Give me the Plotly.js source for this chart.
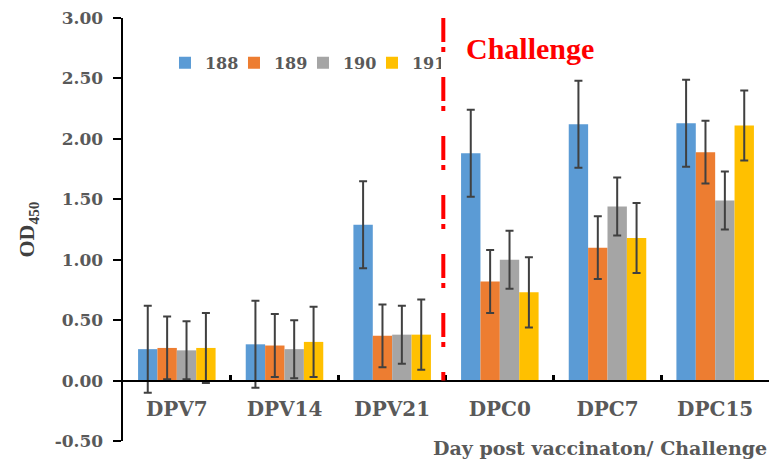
<!DOCTYPE html>
<html>
<head>
<meta charset="utf-8">
<script src="https://cdn.plot.ly/plotly-3.0.1.min.js"></script>
<style>html,body{margin:0;padding:0;background:#fff;}#chart{width:769px;height:466px;}</style>
</head>
<body>
<div id="chart"></div>
<script>
// ---- data ----
const categories = ['DPV7', 'DPV14', 'DPV21', 'DPC0', 'DPC7', 'DPC15'];
const seriesNames = ['188', '189', '190', '191'];
const s188 = [0.26, 0.30, 1.29, 1.88, 2.12, 2.13];
const s189 = [0.27, 0.29, 0.37, 0.82, 1.10, 1.89];
const s190 = [0.25, 0.26, 0.38, 1.00, 1.44, 1.49];
const s191 = [0.27, 0.32, 0.38, 0.73, 1.18, 2.11];
const e188 = [0.36, 0.36, 0.36, 0.36, 0.36, 0.36];
const e189 = [0.26, 0.26, 0.26, 0.26, 0.26, 0.26];
const e190 = [0.24, 0.24, 0.24, 0.24, 0.24, 0.24];
const e191 = [0.29, 0.29, 0.29, 0.29, 0.29, 0.29];
const yTickVals = [-0.5, 0, 0.5, 1, 1.5, 2, 2.5, 3];
const yTickText = ['-0.50', '0.00', '0.50', '1.00', '1.50', '2.00', '2.50', '3.00'];
const challengeText = 'Challenge';
const xTitle = 'Day post vaccinaton/ Challenge';
const yTitle = 'OD<sub>450</sub>';

// ---- styles ----
const colors = ['#5B9BD5', '#ED7D31', '#A5A5A5', '#FFC000'];
const values = [s188, s189, s190, s191];
const errs = [e188, e189, e190, e191];
const serif = 'Liberation Serif, Times New Roman, serif';
const wideSerif = 'DejaVu Serif, serif';
const grey = '#595959';

const traces = seriesNames.map((name, i) => ({
  type: 'bar',
  name: name,
  x: categories,
  y: values[i],
  marker: {color: colors[i], line: {width: 0}},
  error_y: {type: 'data', array: errs[i], visible: true, color: '#404040', thickness: 2, width: 4}
}));

const layout = {
  width: 769, height: 466,
  margin: {l: 123, r: 0, t: 18, b: 25, pad: 0},
  paper_bgcolor: '#ffffff', plot_bgcolor: '#ffffff',
  barmode: 'group', bargap: 0.28, bargroupgap: 0,
  showlegend: true,
  legend: {
    orientation: 'h', x: 0.065, y: 0.894, xanchor: 'left', yanchor: 'middle',
    bgcolor: 'rgba(0,0,0,0)', entrywidth: 24,
    font: {family: wideSerif, size: 16, color: grey, weight: 'bold'}
  },
  xaxis: {
    type: 'category', anchor: 'free', position: 0.5 / 3.5,
    showline: true, linecolor: '#000', linewidth: 2.5,
    ticks: 'inside', tickson: 'boundaries', ticklen: 5, tickwidth: 2.5, tickcolor: '#000',
    showticklabels: true, ticklabelstandoff: 10,
    tickfont: {family: wideSerif, size: 20, color: grey, weight: 'bold'},
    showgrid: false, zeroline: false,
    range: [-0.5, 5.5]
  },
  yaxis: {
    range: [-0.5, 3.0], showline: true, linecolor: '#000', linewidth: 2.5,
    ticks: 'outside', ticklen: 8, tickwidth: 2, tickcolor: '#000',
    tickmode: 'array', tickvals: yTickVals, ticktext: yTickText,
    ticklabelstandoff: 6,
    tickfont: {family: wideSerif, size: 17, color: grey, weight: 'bold'},
    showgrid: false, zeroline: false,
    title: {text: yTitle, standoff: 14, font: {family: serif, size: 22, color: '#404040', weight: 'bold'}}
  },
  shapes: [{
    type: 'line', xref: 'x', yref: 'y', x0: 2.475, x1: 2.475, y0: 3.0, y1: 0,
    line: {color: '#FF0000', width: 4, dash: '24px,5px,5px,25px'}
  }],
  annotations: [
    {text: challengeText, xref: 'x', yref: 'y', x: 2.665, y: 2.75, xanchor: 'left', yanchor: 'middle',
     showarrow: false, font: {family: serif, size: 30, color: '#FF0000', weight: 'bold'}},
    {text: xTitle, xref: 'paper', yref: 'paper', x: 1, y: -0.017, xanchor: 'right', yanchor: 'middle',
     showarrow: false, font: {family: wideSerif, size: 19, color: grey, weight: 'bold'}}
  ]
};

Plotly.newPlot('chart', traces, layout, {displayModeBar: false, staticPlot: true});
</script>
</body>
</html>
